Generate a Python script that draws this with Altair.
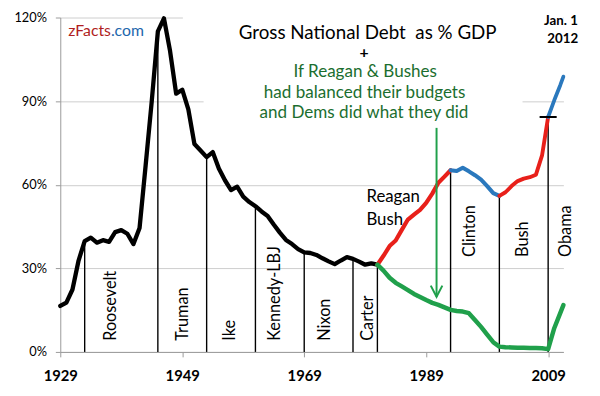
import altair as alt
import pandas as pd

FONT = "Lato"

# ---- data: gross national debt as % of GDP ----
years_black = list(range(1929, 1982))
debt_black = [16.5, 17.7, 22.4, 32.8, 39.8, 41.0, 39.2, 40.1, 39.5, 43.0,
              43.7, 42.4, 38.7, 44.5, 67.0, 90.0, 115.0, 119.7, 108.0, 92.7,
              94.1, 87.0, 74.6, 72.3, 69.9, 71.7, 65.8, 61.6, 58.1, 59.3,
              55.7, 53.8, 52.3, 50.4, 48.8, 45.7, 42.8, 40.2, 38.7, 36.9,
              35.7, 35.5, 34.8, 33.6, 32.5, 31.5, 32.8, 34.0, 33.4, 32.4,
              31.3, 31.8, 31.3]

years_red1 = list(range(1981, 1994))
debt_red1 = [31.3, 34.5, 38.0, 40.0, 43.8, 47.5, 49.3, 51.0, 53.5, 56.8, 60.7, 62.9, 65.2]

years_blue1 = list(range(1993, 2002))
debt_blue1 = [65.2, 64.9, 66.1, 64.8, 63.4, 61.8, 59.5, 57.0, 56.0]

years_red2 = list(range(2001, 2010))
debt_red2 = [56.0, 57.3, 59.5, 61.3, 62.2, 62.7, 63.6, 70.5, 84.3]

years_blue2 = [2009, 2010, 2011, 2011.5]
debt_blue2 = [84.3, 90.3, 95.8, 98.8]

# counterfactual: Reagan & Bushes balanced budgets
years_green = list(range(1981, 2012)) + [2011.5]
debt_green = [31.3, 29.2, 26.6, 24.8, 23.5, 22.2, 20.8, 19.7, 18.6, 17.6,
              16.9, 16.0, 15.1, 14.7, 14.5, 13.9, 11.5, 9.0, 6.2, 3.5,
              1.9, 1.7, 1.6, 1.5, 1.5, 1.4, 1.4, 1.3, 1.0, 8.5, 14.0, 16.8]

# presidencies
pres_start = [1933, 1945, 1953, 1961, 1969, 1977, 1981, 1993, 2001, 2009]
pres_labels = ["Roosevelt", "Truman", "Ike", "Kennedy-LBJ", "Nixon", "Carter",
               "Clinton", "Bush", "Obama"]

x_ticks = [1929, 1949, 1969, 1989, 2009]
y_ticks = [0, 30, 60, 90, 120]

# ---- tables ----
segs = [("black1", years_black, debt_black), ("red1", years_red1, debt_red1),
        ("blue1", years_blue1, debt_blue1), ("red2", years_red2, debt_red2),
        ("blue2", years_blue2, debt_blue2), ("green", years_green, debt_green)]
rows = []
for name, ys, vs in segs:
    for i, (y, v) in enumerate(zip(ys, vs)):
        rows.append({"year": y, "debt": v, "seg": name, "i": i})
lines_df = pd.DataFrame(rows)

actual = {}
for name, ys, vs in segs[:-1]:
    for y, v in zip(ys, vs):
        actual[y] = v
pres_df = pd.DataFrame({"year": pres_start, "top": [actual[y] for y in pres_start]})

xs = alt.Scale(domain=[1929, 2011.5], nice=False, zero=False)
ys_ = alt.Scale(domain=[0, 120], nice=False)

AX = alt.Axis(
    values=x_ticks, format="d", grid=False, title=None, labelFont=FONT,
    labelFontWeight="bold", labelFontSize=15, labelColor="black",
    tickSize=5, tickColor="#9a9a9a", domainColor="#9a9a9a", labelPadding=12,
    labelFlush=False)
AY = alt.Axis(
    values=y_ticks, labelExpr="datum.value + '%'", title=None, grid=True,
    gridColor="#cdcdcd", labelFont=FONT, labelFontSize=13, labelColor="black",
    tickSize=5, tickColor="#9a9a9a", domainColor="#9a9a9a", labelPadding=9)


def X(f):
    return alt.X(f, scale=xs, axis=AX)


def Y(f):
    return alt.Y(f, scale=ys_, axis=AY)


# white text boxes hiding gridlines behind the titles
box_df = pd.DataFrame({"x1": [1949.1, 1952.5], "x2": [2011.5, 2004.8],
                       "y1": [104, 85], "y2": [121, 104]})
boxes = alt.Chart(box_df).mark_rect(color="white").encode(
    x=X("x1:Q"), x2="x2:Q", y=Y("y1:Q"), y2="y2:Q")

rules = alt.Chart(pres_df).mark_rule(color="black", strokeWidth=1.4).encode(
    x=X("year:Q"), y=Y("top:Q"), y2=alt.datum(0))

seg_domain = ["green", "black1", "red1", "blue1", "red2", "blue2"]
seg_colors = ["#20a04b", "#000000", "#e8201a", "#2a78bd", "#e8201a", "#2a78bd"]
seg_widths = [4.5, 3.8, 4.5, 4.5, 4.5, 4.5]
curves = alt.Chart(lines_df).mark_line(strokeJoin="round", strokeCap="round").encode(
    x=X("year:Q"), y=Y("debt:Q"),
    color=alt.Color("seg:N", scale=alt.Scale(domain=seg_domain, range=seg_colors), legend=None),
    strokeWidth=alt.StrokeWidth("seg:N", scale=alt.Scale(domain=seg_domain, range=seg_widths), legend=None),
    detail="seg:N", order="i:Q")

# horizontal tick on top of the Obama line
tick_df = pd.DataFrame({"x1": [2007.6], "x2": [2010.4], "y": [actual[2009]]})
obama_tick = alt.Chart(tick_df).mark_rule(color="black", strokeWidth=2).encode(
    x=X("x1:Q"), x2="x2:Q", y=Y("y:Q"))

# green arrow
arrow_df = pd.DataFrame({
    "year": [1990.7, 1990.7, 1989.75, 1990.7, 1991.65],
    "v": [80.4, 19.8, 23.8, 19.8, 23.8],
    "part": ["shaft", "shaft", "head", "head", "head"],
    "i": [0, 1, 0, 1, 2]})
arrow = alt.Chart(arrow_df).mark_line(color="#20a04b", strokeWidth=2, strokeJoin="miter").encode(
    x=X("year:Q"), y=Y("v:Q"), detail="part:N", order="i:Q")

# rotated presidency labels
lab_df = pd.DataFrame({
    "t": pres_labels,
    "x": [1937.4, 1949.1, 1956.8, 1964.3, 1972.5, 1979.4, 1996.2, 2004.9, 2012.0],
    "y": [4.0] * 6 + [34.1] * 3})
labels = alt.Chart(lab_df).mark_text(angle=270, align="left", baseline="middle",
                                     font=FONT, fontSize=16.5, color="black").encode(
    x=X("x:Q"), y=Y("y:Q"), text="t:N")


def txt(df, **kw):
    return alt.Chart(df).mark_text(font=FONT, **kw).encode(
        x=X("x:Q"), y=Y("y:Q"), text="t:N")


title_df = pd.DataFrame({"t": ["Gross National Debt\u00a0 as % GDP"],
                         "x": [1979.4], "y": [114.3]})
plus_df = pd.DataFrame({"t": ["+"], "x": [1978.8], "y": [107.4]})
green_df = pd.DataFrame({"t": ["If Reagan & Bushes", "had balanced their budgets",
                               "and Dems did what they did"],
                         "x": [1979.0, 1978.9, 1978.8], "y": [100.3, 93.0, 85.8]})
date_df = pd.DataFrame({"t": ["Jan. 1", "2012"], "x": [2011.1, 2011.4], "y": [118.6, 112.2]})
rb_df = pd.DataFrame({"t": ["Reagan", "Bush"], "x": [1979.2, 1979.2], "y": [55.7, 47.2]})
z1 = pd.DataFrame({"t": ["zFacts"], "x": [1937.3], "y": [115.0]})
z2 = pd.DataFrame({"t": [".com"], "x": [1937.3], "y": [115.0]})

texts = [
    txt(title_df, fontSize=19, color="black", align="center", baseline="middle"),
    txt(plus_df, fontSize=16, fontWeight="bold", color="black", align="center", baseline="middle"),
    txt(green_df, fontSize=17.3, color="#1b6e2f", align="center", baseline="middle"),
    txt(date_df, fontSize=13.5, fontWeight="bold", color="black", align="center", baseline="middle"),
    txt(rb_df, fontSize=17, color="black", align="left", baseline="middle"),
    txt(z1, fontSize=16, color="#b01e22", align="right", baseline="middle"),
    txt(z2, fontSize=16, color="#2166ac", align="left", baseline="middle"),
]

chart = alt.layer(boxes, rules, curves, obama_tick, arrow, labels, *texts).properties(
    width=510, height=339,
    autosize=alt.AutoSizeParams(type="none"),
    padding={"left": 53, "top": 7, "right": 29, "bottom": 40},
    background="white",
).configure_view(stroke=None)

chart.save("out.html", embed_options={"renderer": "svg", "actions": False})
